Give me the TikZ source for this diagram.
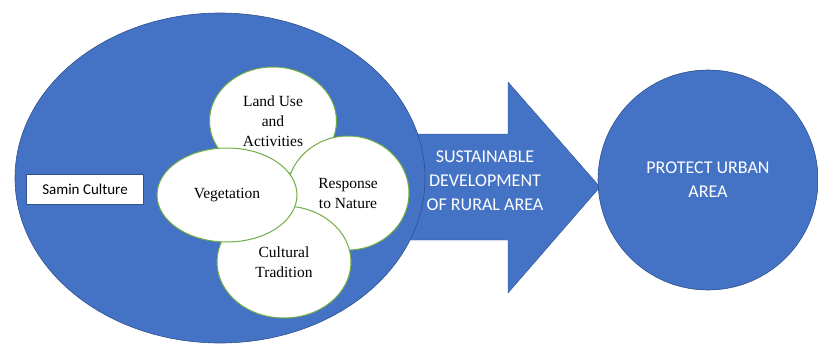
\documentclass[tikz,border=0pt]{standalone}
\usepackage{fontspec}
\setmainfont{Liberation Serif}
\setsansfont{Carlito}
\usetikzlibrary{shapes.geometric}
\definecolor{mainblue}{HTML}{4472C4}
\definecolor{edgeblue}{HTML}{2F528F}
\definecolor{leafgreen}{HTML}{70AD47}

\begin{document}
\begin{tikzpicture}[x=1pt,y=-1pt,
    big/.style={ellipse,fill=mainblue,draw=edgeblue,line width=0.6pt,inner sep=0pt},
    part/.style={ellipse,fill=white,draw=leafgreen,line width=1pt,align=center,inner sep=0pt,font=\fontsize{15.5}{20}\selectfont},
    whitetext/.style={text=white,align=center,font=\sffamily\fontsize{18}{24}\selectfont}]
    \useasboundingbox (0,0) rectangle (818,345);
    % big arrow, partly hidden by the ellipse
    \filldraw[fill=mainblue,draw=edgeblue,line width=0.4pt]
        (405,134) -- (508,134) -- (508,82) -- (600,187) -- (508,293) -- (508,240) -- (405,240) -- cycle;
    \node[big,minimum width=410pt,minimum height=330pt] (culture) at (220,178) {};
    \node[big,circle,minimum size=220pt,whitetext] (urban) at (708,180) {PROTECT URBAN\\AREA};
    \node[whitetext] (devtext) at (485,181) {SUSTAINABLE\\DEVELOPMENT\\OF RURAL AREA};
    \node[draw=edgeblue,fill=white,line width=0.6pt,minimum width=117pt,minimum height=30pt,
          font=\sffamily\fontsize{15}{17}\selectfont] (samin) at (85,189) {Samin Culture};
    \node[part,minimum width=127pt,minimum height=108pt] (landuse) at (273,121) {Land Use\\and\\Activities};
    \node[part,minimum width=122pt,minimum height=114pt] (response) at (348,193) {Response\\to Nature};
    \node[part,minimum width=134pt,minimum height=112pt] (tradition) at (284,262) {Cultural\\Tradition};
    \node[part,minimum width=140pt,minimum height=94pt] (vegetation) at (227,195) {Vegetation};
\end{tikzpicture}
\end{document}
